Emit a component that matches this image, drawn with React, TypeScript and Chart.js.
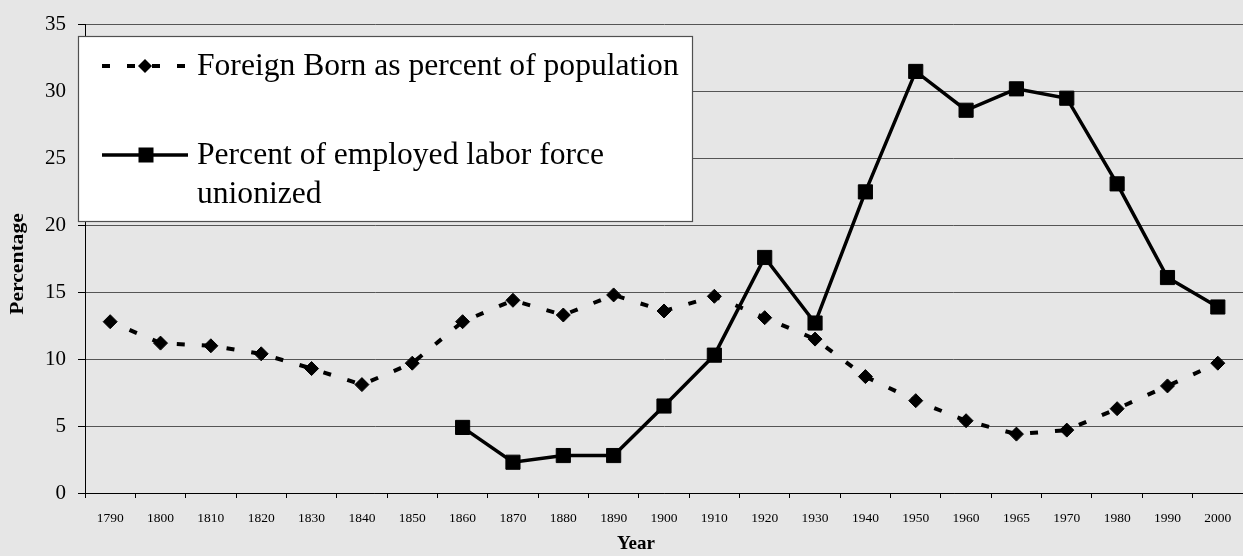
import React, { useEffect, useRef } from 'react';
import { Chart, registerables } from 'chart.js';

Chart.register(...registerables);

const years = [
  '1790', '1800', '1810', '1820', '1830', '1840', '1850', '1860', '1870', '1880', '1890', '1900',
  '1910', '1920', '1930', '1940', '1950', '1960', '1965', '1970', '1980', '1990', '2000',
];

const foreignBorn = [
  12.8, 11.2, 11.0, 10.4, 9.3, 8.1, 9.7, 12.8, 14.4, 13.3, 14.8, 13.6,
  14.7, 13.1, 11.5, 8.7, 6.9, 5.4, 4.4, 4.7, 6.3, 8.0, 9.7,
];

const unionized = [
  null, null, null, null, null, null, null, 4.9, 2.3, 2.8, 2.8, 6.5,
  10.3, 17.6, 12.7, 22.5, 31.5, 28.6, 30.2, 29.5, 23.1, 16.1, 13.9,
];

const seriesLabels = [
  'Foreign Born as percent of population',
  'Percent of employed labor force unionized',
];

const yTicks = [0, 5, 10, 15, 20, 25, 30, 35];
const yTitle = 'Percentage';
const xTitle = 'Year';

const SERIF = '"Liberation Serif", "Times New Roman", serif';

function wrap(ctx: CanvasRenderingContext2D, text: string, maxW: number): string[] {
  const words = text.split(' ');
  const lines: string[] = [];
  let cur = '';
  for (const w of words) {
    const t = cur ? cur + ' ' + w : w;
    if (ctx.measureText(t).width > maxW && cur) {
      lines.push(cur);
      cur = w;
    } else cur = t;
  }
  if (cur) lines.push(cur);
  return lines;
}

const overlayPlugin = {
  id: 'overlay',
  afterDraw(chart: any) {
    const ctx: CanvasRenderingContext2D = chart.ctx;
    // Y title
    ctx.save();
    ctx.translate(18, 264);
    ctx.rotate(-Math.PI / 2);
    ctx.scale(1.2, 1);
    ctx.font = 'bold 18px ' + SERIF;
    ctx.textAlign = 'center';
    ctx.textBaseline = 'middle';
    ctx.fillStyle = '#000';
    ctx.fillText(yTitle, 0, 0);
    ctx.restore();

    // X title
    ctx.save();
    ctx.font = 'bold 19px ' + SERIF;
    ctx.textAlign = 'center';
    ctx.textBaseline = 'middle';
    ctx.fillStyle = '#000';
    ctx.fillText(xTitle, 636, 544);
    ctx.restore();

    // Legend box
    ctx.save();
    ctx.fillStyle = '#ffffff';
    ctx.fillRect(78, 36, 615, 186);
    ctx.strokeStyle = '#505050';
    ctx.lineWidth = 1.2;
    ctx.strokeRect(78.5, 36.5, 614, 185);

    ctx.font = '31.6px ' + SERIF;
    ctx.fillStyle = '#000';
    ctx.textAlign = 'left';
    ctx.textBaseline = 'alphabetic';
    ctx.fillText(seriesLabels[0], 197, 75);
    const lines = wrap(ctx, seriesLabels[1], 485);
    lines.forEach((l, i) => ctx.fillText(l, 197, 164 + i * 39));

    // sample 1: dashed + diamond
    ctx.strokeStyle = '#000';
    ctx.lineWidth = 4;
    ctx.setLineDash([8, 17]);
    ctx.beginPath();
    ctx.moveTo(102, 66);
    ctx.lineTo(186, 66);
    ctx.stroke();
    ctx.setLineDash([]);
    ctx.beginPath();
    ctx.moveTo(145, 59);
    ctx.lineTo(152, 66);
    ctx.lineTo(145, 73);
    ctx.lineTo(138, 66);
    ctx.closePath();
    ctx.fillStyle = '#000';
    ctx.fill();

    // sample 2: solid + square
    ctx.lineWidth = 3.5;
    ctx.beginPath();
    ctx.moveTo(102, 155);
    ctx.lineTo(188, 155);
    ctx.stroke();
    ctx.fillRect(138.5, 147.5, 15, 15);
    ctx.restore();
  },
};

export default function App() {
  const ref = useRef<HTMLCanvasElement>(null);

  useEffect(() => {
    document.body.style.margin = '0';
    document.body.style.background = '#e6e6e6';
    const canvas = ref.current!;
    const chart = new Chart(canvas, {
      type: 'line',
      data: {
        labels: years,
        datasets: [
          {
            label: seriesLabels[1],
            data: unionized,
            borderColor: '#000',
            backgroundColor: '#000',
            borderWidth: 3.5,
            pointStyle: 'rect',
            pointRadius: 10,
            pointBorderWidth: 1,
            pointHoverRadius: 10,
            tension: 0,
            spanGaps: false,
          },
          {
            label: seriesLabels[0],
            data: foreignBorn,
            borderColor: '#000',
            backgroundColor: '#000',
            borderWidth: 4,
            borderDash: [8, 17],
            borderDashOffset: 4,
            borderCapStyle: 'butt',
            pointStyle: 'rectRot',
            pointRadius: 7,
            pointBorderWidth: 1,
            pointHoverRadius: 7,
            tension: 0,
          },
        ],
      },
      options: {
        responsive: false,
        animation: false,
        devicePixelRatio: 1,
        layout: { autoPadding: false, padding: { top: 24, left: 0, right: 0, bottom: 0 } },
        plugins: {
          legend: { display: false },
          tooltip: { enabled: false },
          title: { display: false },
        },
        scales: {
          x: {
            type: 'category',
            offset: true,
            grid: {
              drawOnChartArea: false,
              drawTicks: true,
              tickLength: 5,
              color: '#000',
              offset: true,
            },
            border: { display: true, color: '#000', width: 1 },
            ticks: {
              autoSkip: false,
              maxRotation: 0,
              minRotation: 0,
              color: '#000',
              padding: 12,
              font: { family: SERIF, size: 13.5 },
            },
            afterFit: (s: any) => {
              s.height = 63;
              s.paddingLeft = 0;
              s.paddingRight = 0;
            },
          },
          y: {
            type: 'linear',
            min: 0,
            max: 35,
            afterBuildTicks: (s: any) => {
              s.ticks = yTicks.map((v) => ({ value: v }));
            },
            grid: {
              color: '#555555',
              lineWidth: 1,
              tickLength: 7,
              tickColor: '#000',
            },
            border: { display: true, color: '#000', width: 1 },
            ticks: {
              color: '#000',
              padding: 12,
              font: { family: SERIF, size: 21 },
            },
            afterFit: (s: any) => {
              s.width = 85;
            },
          },
        },
      },
      plugins: [overlayPlugin],
    });
    return () => chart.destroy();
  }, []);

  return (
    <div style={{ width: 1243, height: 556, background: '#e6e6e6' }}>
      <canvas ref={ref} width={1243} height={556} style={{ display: 'block' }} />
    </div>
  );
}
